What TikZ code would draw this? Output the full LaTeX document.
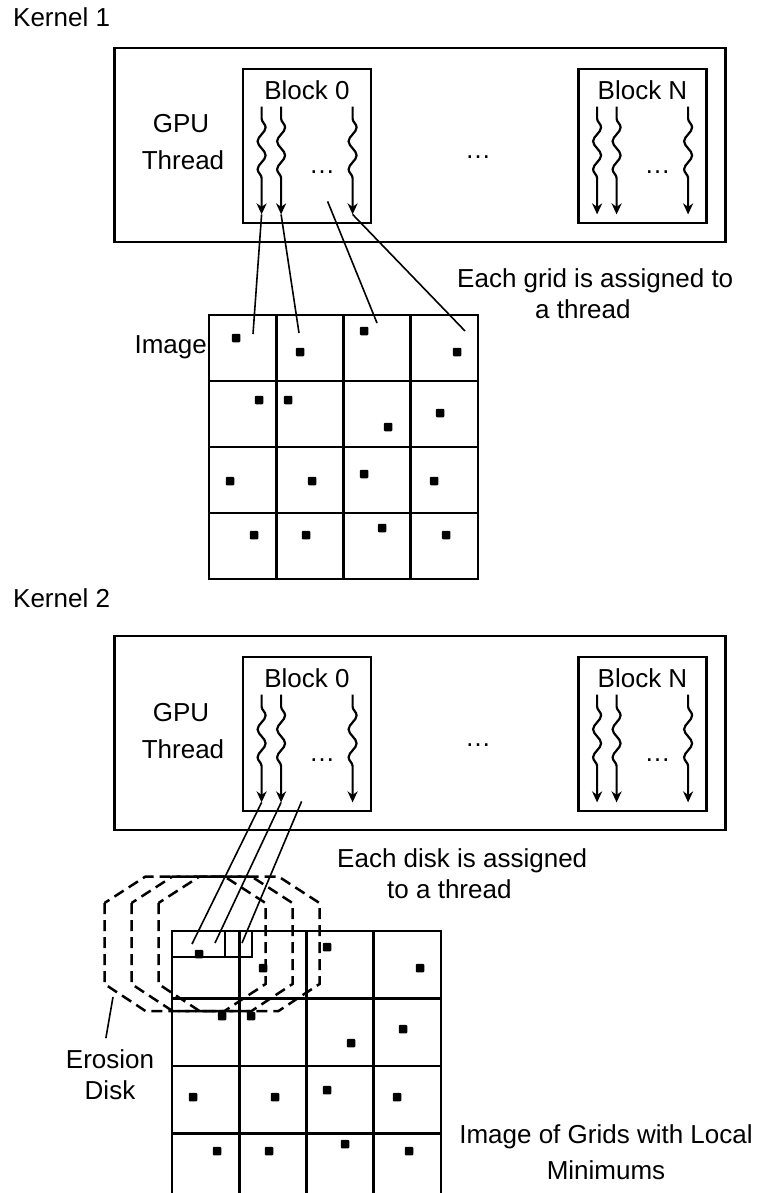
\documentclass[tikz,border=0pt]{standalone}
\usepackage{fontspec}
\setmainfont{Liberation Sans}
\usetikzlibrary{positioning, arrows.meta, calc, decorations.pathmorphing}
\newcommand\lbl{\fontsize{26}{31}\selectfont}
\newcommand\pixellist{27/23, 91/37, 155/16, 248/37, 50/85, 79/85, 179/112, 231/98,
  21/166, 103/166, 155/159, 225/166, 45/220, 97/220, 173/213, 237/220}

\begin{document}
\begin{tikzpicture}[
        x=1pt, y=-1pt,
        every node/.style={font=\lbl, inner sep=0pt},
        panel/.style={rectangle, draw, line width=2.8pt, minimum width=611pt, minimum height=194pt},
        blockbox/.style={rectangle, draw, line width=2.8pt, minimum width=128pt, minimum height=154pt},
        thread/.style={line width=2.2pt, -{Stealth[length=11pt, width=10pt, inset=3.5pt]},
                       decorate, decoration={snake, segment length=28pt, amplitude=4pt,
                                             pre length=12pt, post length=24pt}},
        link/.style={line width=1.6pt},
        cellline/.style={line width=2.8pt},
        pixel/.style={rectangle, fill=black, minimum size=8.5pt, rounded corners=1pt},
        disk/.style={line width=2.5pt, dash pattern=on 11pt off 6pt},
      ]
        \useasboundingbox (0,0) rectangle (763,1193);
        \clip (0,0) rectangle (763,1193);

        % GPU panels, same layout for both kernels
        \foreach \k/\dy/\ky in {1/0/27, 2/588/607} {
          \node[anchor=base west] (kern\k) at (13,\ky) {Kernel \k};
          \node[panel] (gpu\k) at (420,145+\dy) {};
          \node[anchor=base] (gpu\k-l1) at (181,133+\dy) {GPU};
          \node[anchor=base] (gpu\k-l2) at (183,170+\dy) {Thread};
          \node[blockbox] (blk\k-0) at (307,146+\dy) {};
          \node[blockbox] (blk\k-n) at (642.5,146+\dy) {};
          \node[below=12.5pt of blk\k-0.north] (blk\k-0-t) {Block 0};
          \node[below=12.5pt of blk\k-n.north] (blk\k-n-t) {Block N};
          \node (gpu\k-dots) at (478,157+\dy) {…};
          \foreach \b in {0,n} {
            \node (blk\k-\b-dots) at ($(blk\k-\b.south)+(15,-52)$) {…};
            \foreach \tx [count=\t] in {20,39.5,111} {
              \coordinate (top\k-\b-\t) at ($(blk\k-\b.north west)+(\tx,39)$);
              \coordinate (tip\k-\b-\t) at ($(blk\k-\b.south west)+(\tx,-10)$);
              \draw[thread] (top\k-\b-\t) -- (tip\k-\b-\t);
            }
          }
        }

        % kernel 1: image split into grids
        \coordinate (img1) at (209,315);
        \draw[cellline] (img1) rectangle ++(269,264);
        \foreach \i in {1,2,3} {
          \draw[cellline] ($(img1)+(\i*67.25,0)$) -- ++(0,264);
          \draw[cellline] ($(img1)+(0,\i*66)$) -- ++(269,0);
        }
        \foreach \px/\py [count=\j] in \pixellist
          \node[pixel] (img1-p\j) at ($(img1)+(\px,\py)$) {};
        \node[anchor=base east] (img1-l) at ($(img1)+(-2,38)$) {Image};
        \node[anchor=base west] (note1) at (457,287) {Each grid is assigned to};
        \node[anchor=base west] (note1b) at (535,318) {a thread};

        \coordinate (src1-3) at ($(blk1-0.south west)+(86,-23)$);
        \coordinate (dst1-1) at ($(img1)+(44,19)$);
        \coordinate (dst1-2) at ($(img1)+(90,18)$);
        \coordinate (dst1-3) at ($(img1)+(168,8)$);
        \coordinate (dst1-4) at ($(img1)+(256,16)$);
        \draw[link] (tip1-0-1) -- (dst1-1);
        \draw[link] (tip1-0-2) -- (dst1-2);
        \draw[link] (src1-3) -- (dst1-3);
        \draw[link] (tip1-0-3) -- (dst1-4);

        % kernel 2: local minimums and erosion disks
        \coordinate (img2) at (172,931);
        \draw[cellline] (img2) rectangle ++(269,270);
        \foreach \i in {1,2,3} {
          \draw[cellline] ($(img2)+(\i*67.25,0)$) -- ++(0,270);
          \draw[cellline] ($(img2)+(0,\i*67.5)$) -- ++(269,0);
        }
        \foreach \px/\py [count=\j] in \pixellist
          \node[pixel] (img2-p\j) at ($(img2)+(\px,\py)$) {};
        \draw[cellline] (img2) rectangle ++(80,26);
        \draw[cellline] ($(img2)+(53,0)$) -- ++(0,26);

        \foreach \cx [count=\i] in {185,212,239} {
          \coordinate (disk\i) at (\cx,943.5);
          \draw[disk] ($(disk\i)+(-80.5,-40.5)$) -- ++(0,81) -- ++(41,27) -- ++(79,0)
            -- ++(41,-27) -- ++(0,-81) -- ++(-41,-26.5) -- ++(-79,0) -- cycle;
        }

        \coordinate (src2-3) at ($(blk2-0.south west)+(60,-11)$);
        \coordinate (dst2-1) at (192,944);
        \coordinate (dst2-2) at (215,943);
        \coordinate (dst2-3) at (242,943);
        \draw[link] (tip2-0-1) -- (dst2-1);
        \draw[link] (tip2-0-2) -- (dst2-2);
        \draw[link] (src2-3) -- (dst2-3);

        \node[anchor=base west] (note2) at (337,867) {Each disk is assigned};
        \node[anchor=base west] (note2b) at (387,898) {to a thread};

        \coordinate (ero-tip) at ($(disk1)+(-72,53.5)$);
        \node[align=center, anchor=north] (erosion) at (110,1049) {Erosion\\Disk};
        \draw[link, shorten >=11pt] (ero-tip) -- ([xshift=-6pt]erosion.north);

        \node[align=center, anchor=north] (img2-l) at (606,1124) {Image of Grids with Local\\[5pt]Minimums};
\end{tikzpicture}
\end{document}
